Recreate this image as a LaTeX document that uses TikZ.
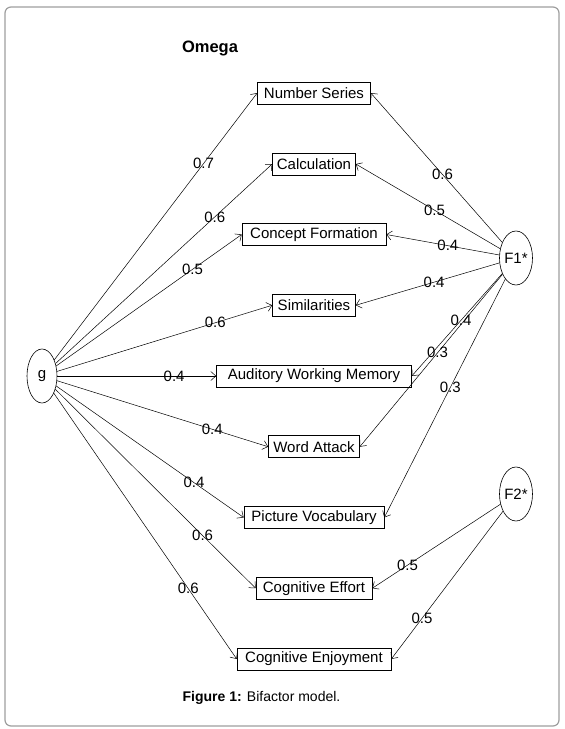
\documentclass[tikz,border=0pt]{standalone}
\usepackage{fontspec}
\setmainfont{Liberation Sans}
\usetikzlibrary{arrows.meta,shapes.geometric}
\begin{document}
\begin{tikzpicture}[x=1pt,y=-1pt,
  box/.style={draw, line width=0.6pt, minimum height=22pt, inner sep=0pt, font=\fontsize{15}{15}\selectfont},
  lat/.style={draw, ellipse, line width=0.6pt, minimum width=30pt, minimum height=54pt, inner sep=0pt, font=\fontsize{15}{15}\selectfont},
  ln/.style={draw, line width=0.5pt, -{Straight Barb[length=5pt,width=9pt,line width=0.5pt]}},
  lbl/.style={font=\fontsize{15}{15}\selectfont, inner sep=0pt}]
\useasboundingbox (0,0) rectangle (565,729);
\draw[black!38, line width=1.2pt, rounded corners=6pt] (5,7) rectangle (559,726);
\node[font=\fontsize{16.5}{16.5}\selectfont\bfseries] (title) at (210,48) {Omega};
\node[font=\fontsize{14}{14}\selectfont] (cap) at (261.5,698) {\textbf{Figure 1:} Bifactor model.};
% observed variables
\node[box, minimum width=113pt] (ns)  at (314,93)     {Number Series};
\node[box, minimum width=83pt]  (cal) at (314,164)    {Calculation};
\node[box, minimum width=144pt] (cf)  at (314,234.5)  {Concept Formation};
\node[box, minimum width=83pt]  (sim) at (314,305.25) {Similarities};
\node[box, minimum width=195pt] (awm) at (314,376)    {Auditory Working Memory};
\node[box, minimum width=91pt]  (wa)  at (314,446.75) {Word Attack};
\node[box, minimum width=140pt] (pv)  at (314,517.5)  {Picture Vocabulary};
\node[box, minimum width=116pt] (ceff) at (314,588.25) {Cognitive Effort};
\node[box, minimum width=154pt] (cenj) at (314,659)   {Cognitive Enjoyment};
% latent variables
\node[lat] (g)  at (42,376)  {g};
\node[lat] (f1) at (516,258) {F1*};
\node[lat, minimum width=32pt] (f2) at (516,494) {F2*};
% general factor loadings
\draw[ln] (g) -- node[lbl,pos=0.735]{0.7} (ns.west);
\draw[ln] (g) -- node[lbl,pos=0.735]{0.6} (cal.west);
\draw[ln] (g) -- node[lbl,pos=0.735]{0.5} (cf.west);
\draw[ln] (g) -- node[lbl,pos=0.735]{0.6} (sim.west);
\draw[ln] (g) -- node[lbl,pos=0.735]{0.4} (awm.west);
\draw[ln] (g) -- node[lbl,pos=0.735]{0.4} (wa.west);
\draw[ln] (g) -- node[lbl,pos=0.735]{0.4} (pv.west);
\draw[ln] (g) -- node[lbl,pos=0.735]{0.6} (ceff.west);
\draw[ln] (g) -- node[lbl,pos=0.735]{0.6} (cenj.west);
% F1 loadings
\draw[ln] (f1) -- node[lbl,pos=0.455]{0.6} (ns.east);
\draw[ln] (f1) -- node[lbl,pos=0.455]{0.5} (cal.east);
\draw[ln] (f1) -- node[lbl,pos=0.455]{0.4} (cf.east);
\draw[ln] (f1) -- node[lbl,pos=0.455]{0.4} (sim.east);
\draw[ln] (f1) -- node[lbl,pos=0.455]{0.4} (awm.east);
\draw[ln] (f1) -- node[lbl,pos=0.455]{0.3} (wa.east);
\draw[ln] (f1) -- node[lbl,pos=0.455]{0.3} (pv.east);
% F2 loadings
\draw[ln] (f2) -- node[lbl,pos=0.725]{0.5} (ceff.east);
\draw[ln] (f2) -- node[lbl,pos=0.725]{0.5} (cenj.east);
\end{tikzpicture}
\end{document}
